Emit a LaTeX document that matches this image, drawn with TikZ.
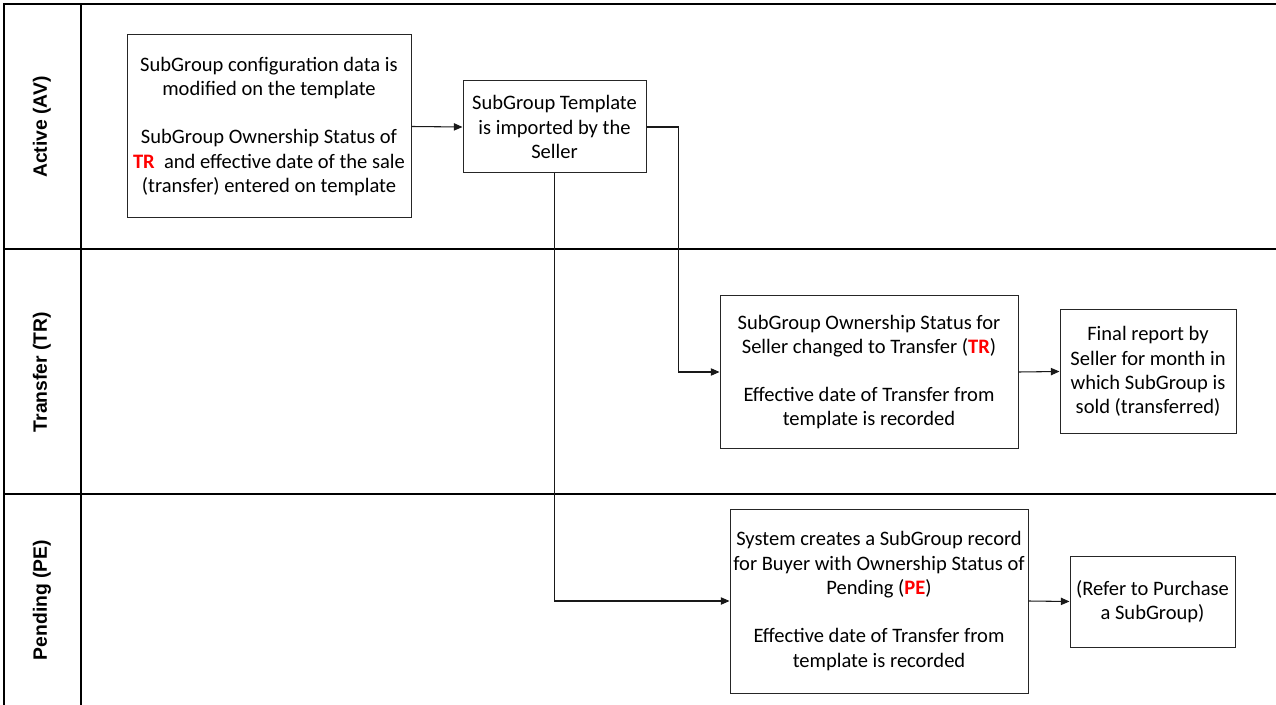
\documentclass[tikz,border=0pt]{standalone}
\usepackage{fontspec}
\setmainfont{Carlito}
\newfontfamily\lanefont{Liberation Sans}
\usetikzlibrary{arrows.meta, positioning}

\newcommand{\redtag}[1]{\textcolor{red}{\textbf{#1}}}

\begin{document}
\begin{tikzpicture}[x=0.75pt, y=-0.75pt,
    box/.style={draw=black!85, line width=0.75pt, align=center, inner sep=0pt, font=\fontsize{15.4}{18.2}\selectfont},
    lane/.style={rotate=90, font=\lanefont\bfseries\fontsize{14.5}{17}\selectfont},
    flow/.style={line width=0.8pt, draw=black!90, -{Triangle[length=6.5pt, width=5.5pt]}}]
    \useasboundingbox (0,0) rectangle (1276,705);

    % Swimlanes
    \draw[line width=1pt] (1276,4) -- (4,4) -- (4,705);
    \draw[line width=1pt] (81,4) -- (81,705);
    \draw[line width=1pt] (4,249) -- (1276,249);
    \draw[line width=1pt] (4,494) -- (1276,494);
    \node[lane] (laneAV) at (42,127) {Active (AV)};
    \node[lane] (laneTR) at (42,372) {Transfer (TR)};
    \node[lane] (lanePE) at (42,600) {Pending (PE)};

    % Process boxes
    \node[box, minimum width=213pt, minimum height=137.25pt] (config) at (269,126.5)
        {SubGroup configuration data is\\modified on the template\\[18pt]
         SubGroup Ownership Status of\\\redtag{TR}\ \ and effective date of the sale\\(transfer) entered on template};
    \node[box, minimum width=137.25pt, minimum height=69pt] (tmpl) at (554.5,127)
        {SubGroup Template\\is imported by the\\Seller};
    \node[box, minimum width=223.5pt, minimum height=114pt] (trStatus) at (869,372)
        {SubGroup Ownership Status for\\Seller changed to Transfer (\redtag{TR})\\[18pt]
         Effective date of Transfer from\\template is recorded};
    \node[box, minimum width=132pt, minimum height=92.25pt] (report) at (1148,371.5)
        {Final report by\\Seller for month in\\which SubGroup is\\sold (transferred)};
    \node[box, minimum width=223.5pt, minimum height=138pt] (peRecord) at (879,601)
        {System creates a SubGroup record\\for Buyer with Ownership Status of\\Pending (\redtag{PE})\\[18pt]
         Effective date of Transfer from\\template is recorded};
    \node[box, minimum width=123.75pt, minimum height=68.25pt] (purchase) at (1152.5,601.5)
        {(Refer to Purchase\\a SubGroup)};

    % Connectors
    \draw[flow] (config.east) -- (tmpl.west);
    \draw[flow] (tmpl.east) -- ++(32,0) |- (trStatus.west);
    \draw[flow] (tmpl.south) |- (peRecord.west);
    \draw[flow] (trStatus.east) -- (report.west);
    \draw[flow] (peRecord.east) -- (purchase.west);
\end{tikzpicture}
\end{document}
